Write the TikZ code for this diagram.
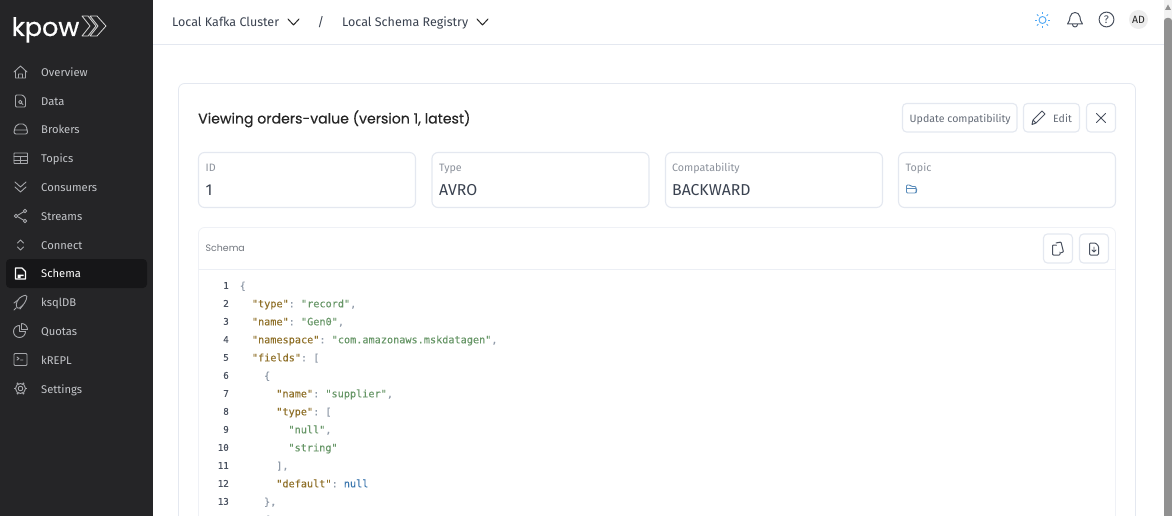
\documentclass[tikz,border=0pt]{standalone}
\usepackage{fontspec}
\setmainfont{Fira Sans}
\setmonofont[FakeBold=0.1]{DejaVu Sans Mono}
\newfontfamily\titlefont[FakeBold=0.35]{Poppins}
\newfontfamily\plainpop{Poppins}
\newfontfamily\logofont[FakeBold=0.7]{Poppins}
\usetikzlibrary{positioning,calc}
\definecolor{sidebar}{HTML}{252527}
\definecolor{sideact}{HTML}{161618}
\definecolor{sidetxt}{HTML}{C4C6CA}
\definecolor{edge}{HTML}{E4E8F0}
\definecolor{inktxt}{HTML}{3A4250}
\definecolor{greytxt}{HTML}{8C929C}
\definecolor{keycol}{HTML}{8F7028}
\definecolor{strcol}{HTML}{669666}
\definecolor{nullcol}{HTML}{3A76AE}
\definecolor{puncol}{HTML}{8F9AA8}
\definecolor{numcol}{HTML}{4A5260}
\definecolor{iconcol}{HTML}{4A5260}
\definecolor{suncol}{HTML}{4FA8F5}
\newcommand{\ck}[1]{\textcolor{keycol}{#1}}
\newcommand{\cs}[1]{\textcolor{strcol}{#1}}
\newcommand{\cn}[1]{\textcolor{nullcol}{#1}}
\newcommand{\cp}[1]{\textcolor{puncol}{#1}}
\tikzset{
	sidelabel/.style={anchor=base west,text=sidetxt,font=\fontsize{11.2}{14}\selectfont,inner sep=0pt},
	sideicon/.style={draw=sidetxt!85!black,line width=.9pt,line join=round,line cap=round},
	toplabel/.style={anchor=base west,text=inktxt,font=\fontsize{12.5}{15}\selectfont,inner sep=0pt},
	topicon/.style={draw=iconcol,line width=1pt,line join=round,line cap=round},
	cardbox/.style={draw=edge,fill=white,line width=.8pt,rounded corners=6pt},
	infobox/.style={draw=edge,fill=white,line width=1.1pt,rounded corners=6pt},
	btnbox/.style={draw=edge,fill=white,line width=1.1pt,rounded corners=4pt},
	smalllabel/.style={anchor=base west,text=greytxt,font=\fontsize{10.7}{14}\selectfont,inner sep=0pt},
	biglabel/.style={anchor=base west,text=inktxt,font=\fontsize{15.8}{18}\selectfont,inner sep=0pt},
	btnlabel/.style={anchor=base west,text=iconcol!85!white,font=\fontsize{10.6}{14}\selectfont,inner sep=0pt},
	codeline/.style={anchor=base west,font=\ttfamily\fontsize{10.2}{12}\selectfont,inner sep=0pt},
	numline/.style={anchor=base east,text=numcol,font=\ttfamily\fontsize{9.2}{12}\selectfont,inner sep=0pt},
}
\begin{document}
\begin{tikzpicture}[x=1pt,y=-1pt]
	\useasboundingbox (0,0) rectangle (1172,516);
	\clip (0,0) rectangle (1172,516);
	\fill[white] (0,0) rectangle (1172,516);
	
	% sidebar
	\fill[sidebar] (0,0) rectangle (153,516);
	\fill[sideact,rounded corners=4pt] (6,259) rectangle (147,288);
	\node[anchor=base west,text=white,inner sep=0pt,font=\logofont\fontsize{25.5}{30}\selectfont] (logo) at (11.5,36) {kpow};
	\draw[white!85!black,line width=.8pt,line join=round]
		(82,16) -- (88,16) -- (96,26) -- (88,36) -- (82,36) -- (90,26) -- cycle
		(90,16) -- (97,16) -- (106,26) -- (97,36) -- (90,36) -- (98,26) -- cycle;
	
	% sidebar items
	\foreach \name/\ypos in {Overview/76.5,Data/105.5,Brokers/133.5,Topics/162.5,Consumers/191,Streams/220,Connect/249,ksqlDB/306,Quotas/335,kREPL/364,Settings/393}
		\node[sidelabel] (item\name) at (41,\ypos) {\name};
	\node[sidelabel,text=white] (itemSchema) at (41,277.5) {Schema};
	
	% sidebar icons
	\draw[sideicon] (14,72) -- (20.5,66) -- (27,72) (15.5,71) -- (15.5,78) -- (25.5,78) -- (25.5,71) (18.5,78) -- (18.5,74) -- (22.5,74) -- (22.5,78);
	\draw[sideicon,rounded corners=1pt] (15.5,95) -- (22.5,95) -- (25.5,98) -- (25.5,107) -- (15.5,107) -- cycle;
	\draw[sideicon] (20.3,102) circle (1.7) (21.6,103.3) -- (23,104.5);
	\draw[sideicon,rounded corners=2pt] (14,134) -- (14,130) -- (17,124) -- (25,124) -- (27.5,130) -- (27.5,134) -- cycle (14,130) -- (27.5,130);
	\draw[sideicon,rounded corners=.5pt] (14,153) rectangle (27.5,163.5);
	\draw[sideicon] (14,156.5) -- (27.5,156.5) (14,160) -- (27.5,160) (20.7,156.5) -- (20.7,163.5);
	\draw[sideicon] (15,182) -- (20.5,187) -- (26,182) (15,187) -- (20.5,192) -- (26,187);
	\draw[sideicon] (25,211) -- (16.5,216) -- (25,221);
	\draw[sideicon,fill=sidebar] (25,211) circle (1.8) (16,216) circle (1.8) (25,221) circle (1.8);
	\draw[sideicon] (17.5,243) -- (20.5,240) -- (23.5,243) (17.5,247) -- (20.5,250) -- (23.5,247);
	\draw[white,line width=1.2pt,line join=round] (15.5,268) -- (22,268) -- (25.5,271.5) -- (25.5,279) -- (15.5,279) -- cycle;
	\fill[white] (17.5,274.5) rectangle (23.5,276) (17.5,276) rectangle (20.5,278);
	\draw[sideicon,rounded corners=1.5pt] (16,306) .. controls (17,299) and (21,296) .. (27,295) .. controls (26.5,301) and (24,305) .. (18,309) -- cycle;
	\draw[sideicon] (14,303) -- (18,300) (20,309) -- (23,305) (14,310) -- (16,308);
	\draw[sideicon] (19.5,325.5) arc (270:0:6) -- (19.5,331.5) -- cycle;
	\draw[sideicon] (21.5,323.5) -- (21.5,329.5) -- (27.5,329.5) arc (0:-90:6);
	\draw[sideicon,rounded corners=1pt] (14,353.5) rectangle (27,365.5);
	\draw[sideicon] (17,357) -- (19,358.5) -- (17,360) (20.5,360) -- (23,360);
	\draw[sideicon] (20.5,388.5) circle (2.3);
	\draw[sideicon] (20.5,388.5) circle (5);
	\foreach \ang in {0,60,...,300}
		\draw[sideicon,line width=1.6pt,line cap=butt] (20.5,388.5) ++(\ang:5) -- ++(\ang:1.6);
	
	% top bar
	\draw[edge,line width=.8pt] (153,44.5) -- (1164,44.5);
	\node[toplabel] (cluster) at (172,27) {Local Kafka Cluster};
	\node[toplabel] (slash) at (317.5,27) {/};
	\node[toplabel] (registry) at (342,27) {Local Schema Registry};
	\draw[topicon,draw=black!85,line width=1pt] (288,19) -- (293.5,25) -- (299,19) (477,19) -- (482.5,25) -- (488,19);
	
	% top icons
	\draw[suncol,line width=.9pt] (1042.5,20) circle (3.5);
	\foreach \ang in {0,45,...,315}
		\draw[suncol,line width=.9pt] (1042.5,20) ++(\ang:5.8) -- ++(\ang:2);
	\draw[topicon] (1067.5,24) .. controls (1070,21.5) and (1069.5,19) .. (1070,17) .. controls (1071,11) and (1079,11) .. (1080,17) .. controls (1080.5,19) and (1080,21.5) .. (1082.5,24) -- cycle;
	\draw[topicon] (1072.5,24.5) arc (180:0:2.5);
	\draw[topicon] (1106.5,19.5) circle (7.4);
	\node[inner sep=0pt,text=iconcol,font=\fontsize{11}{12}\selectfont] (helpmark) at (1106.5,19.5) {?};
	\fill[black!7] (1138.5,19.5) circle (9.5);
	\node[inner sep=0pt,text=black!85,font=\fontsize{10.5}{12}\selectfont] (avatar) at (1138.5,19.5) {AD};
	
	% scrollbar
	\fill[black!5] (1164,0) rectangle (1172,516);
	\fill[black!43,rounded corners=3pt] (1164,18) rectangle (1172,530);
	\fill[black!43] (1165,10) -- (1168,4.5) -- (1171,10) -- cycle;
	
	% main card
	\draw[cardbox] (178.5,83.5) rectangle (1135.5,540);
	\node[anchor=base west,text=black!85,inner sep=0pt,font=\titlefont\fontsize{14.1}{17}\selectfont] (title) at (198,123.5) {Viewing orders-value (version 1, latest)};
	
	% buttons
	\draw[btnbox] (902.5,103.5) rectangle (1017,132);
	\node[btnlabel] (update) at (909.5,122.5) {Update compatibility};
	\draw[btnbox] (1023.5,103.5) rectangle (1079.5,132);
	\node[btnlabel] (edit) at (1053,122.5) {Edit};
	\draw[topicon] (1032,124.5) -- (1033,120) -- (1042,111) -- (1045,114) -- (1036,123) -- cycle (1033,120) -- (1036,123);
	\draw[btnbox] (1086.5,103.5) rectangle (1115.5,132);
	\draw[topicon] (1096.5,113.5) -- (1105.5,122.5) (1105.5,113.5) -- (1096.5,122.5);
	
	% info boxes
	\draw[infobox] (198.5,152.5) rectangle (415.5,207.5);
	\draw[infobox] (432,152.5) rectangle (649,207.5);
	\draw[infobox] (665.5,152.5) rectangle (882.5,207.5);
	\draw[infobox] (898.5,152.5) rectangle (1115.5,207.5);
	\node[smalllabel] (idhead) at (205.5,171.5) {ID};
	\node[smalllabel] (typehead) at (439,171.5) {Type};
	\node[smalllabel] (comphead) at (672,171.5) {Compatability};
	\node[smalllabel] (topichead) at (905.5,171.5) {Topic};
	\node[biglabel] (idval) at (205.5,195) {1};
	\node[biglabel] (typeval) at (439,195) {AVRO};
	\node[biglabel] (compval) at (672,195) {BACKWARD};
	\draw[draw=nullcol!85!white,line width=.9pt,line join=round,rounded corners=1pt] (906.5,193) -- (906.5,185) -- (910,185) -- (911.5,186.5) -- (916,186.5) -- (916,193) -- cycle (906.5,188.5) -- (917,188.5) -- (916,193);
	
	% schema card
	\draw[cardbox,draw=edge!60!white] (198.5,227.5) rectangle (1115.5,540);
	\draw[edge!70!white,line width=.8pt] (198.5,269.5) -- (1115.5,269.5);
	\node[anchor=base west,text=greytxt!80!black,inner sep=0pt,font=\plainpop\fontsize{9.4}{12}\selectfont] (schemahead) at (205.5,251.5) {Schema};
	\draw[btnbox] (1043.5,234) rectangle (1072.5,263);
	\draw[btnbox] (1079.5,234) rectangle (1108.5,263);
	\draw[topicon,rounded corners=.8pt] (1052.5,245) rectangle (1060,255);
	\draw[topicon,fill=white,rounded corners=.8pt] (1056,243) -- (1061,242) -- (1063.5,252) -- (1060,253);
	\draw[topicon,rounded corners=1pt] (1089.5,243) -- (1095.5,243) -- (1098.5,246) -- (1098.5,255) -- (1089.5,255) -- cycle;
	\draw[topicon,line width=.8pt] (1094,247) -- (1094,252) (1092,250) -- (1094,252) -- (1096,250);
	
	% code
	\foreach \n/\ind/\txt in {
		1/0/{\cp{\{}},
		2/1/{\ck{"type"}\cp{: }\cs{"record"}\cp{,}},
		3/1/{\ck{"name"}\cp{: }\cs{"Gen0"}\cp{,}},
		4/1/{\ck{"namespace"}\cp{: }\cs{"com.amazonaws.mskdatagen"}\cp{,}},
		5/1/{\ck{"fields"}\cp{: [}},
		6/2/{\cp{\{}},
		7/3/{\ck{"name"}\cp{: }\cs{"supplier"}\cp{,}},
		8/3/{\ck{"type"}\cp{: [}},
		9/4/{\cs{"null"}\cp{,}},
		10/4/{\cs{"string"}},
		11/3/{\cp{],}},
		12/3/{\ck{"default"}\cp{: }\cn{null}},
		13/2/{\cp{\},}},
		14/2/{\cp{\{}}}
	{
		\node[numline] (num\n) at (229,{271.3+18*\n-.5}) {\n};
		\node[codeline] (code\n) at ({239.5+12.2*\ind},{271.3+18*\n}) {\txt};
	}
\end{tikzpicture}
\end{document}
